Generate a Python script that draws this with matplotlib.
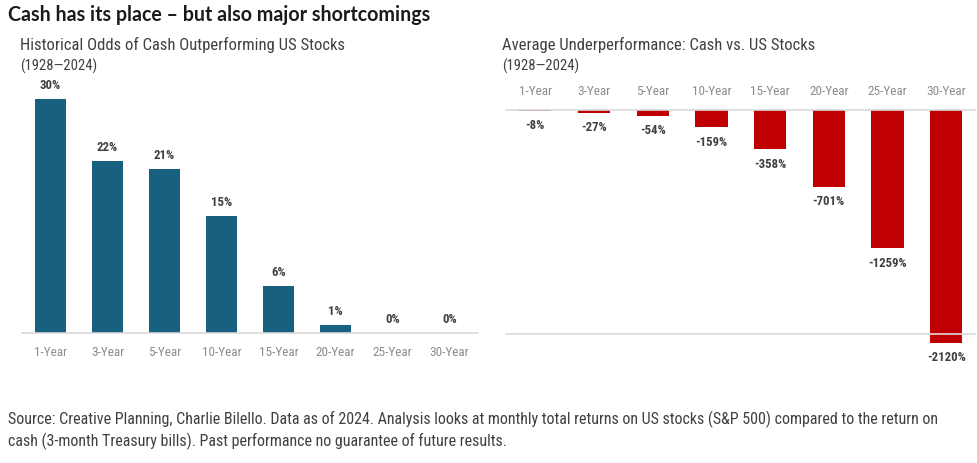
import matplotlib
matplotlib.use("Agg")
import matplotlib.pyplot as plt

periods = ["1-Year", "3-Year", "5-Year", "10-Year", "15-Year", "20-Year", "25-Year", "30-Year"]
odds = [30, 22, 21, 15, 6, 1, 0, 0]
underperf = [-8, -27, -54, -159, -358, -701, -1259, -2120]

NF = ["Roboto Condensed", "DejaVu Sans"]

W, H = 978, 463
fig = plt.figure(figsize=(W / 100, H / 100), dpi=100)

def fx(px):
    return px / W

def fy(py):
    return 1 - py / H

blue = "#17607F"
red = "#C00000"
grid = "#D9D9D9"
tickc = "#8C8C8C"
labc = "#404040"

# Left chart
axL = fig.add_axes([fx(22), fy(333), fx(478 - 22), (333 - 80) / H])
x = range(len(periods))
axL.bar(x, odds, width=0.56, color=blue, zorder=1)
axL.set_xlim(-0.5, 7.5)
axL.set_ylim(0, 253 / 7.8)
for s in ["top", "left", "right"]:
    axL.spines[s].set_visible(False)
axL.spines["bottom"].set_color(grid)
axL.spines["bottom"].set_linewidth(1.2)
axL.spines["bottom"].set_zorder(3)
axL.set_yticks([])
axL.set_xticks(list(x))
axL.set_xticklabels(periods, family=NF, fontsize=9.5, color=tickc)
axL.tick_params(axis="x", length=0, pad=9)
for i, v in enumerate(odds):
    axL.annotate(f"{v}%", (i, v), xytext=(0, 5), textcoords="offset points",
                 ha="center", va="bottom", family=NF, fontsize=9.2, fontweight="bold", color=labc)

# Right chart
ymin = -(334 - 110) / 0.1099
axR = fig.add_axes([fx(506), fy(334), fx(975.5 - 506), (334 - 110) / H])
axR.bar(x, underperf, width=0.55, color=red, zorder=1, clip_on=False)
axR.set_xlim(-0.5, 7.5)
axR.set_ylim(ymin, 0)
for s in ["left", "right"]:
    axR.spines[s].set_visible(False)
for s in ["top", "bottom"]:
    axR.spines[s].set_color(grid)
    axR.spines[s].set_linewidth(1.2)
    axR.spines[s].set_zorder(3)
axR.set_yticks([])
axR.xaxis.tick_top()
axR.set_xticks(list(x))
axR.set_xticklabels(periods, family=NF, fontsize=9.5, color=tickc)
axR.tick_params(axis="x", length=0, pad=9)
for i, v in enumerate(underperf):
    axR.annotate(f"{v}%", (i, v), xytext=(0, -6), textcoords="offset points",
                 ha="center", va="top", family=NF, fontsize=9.2, fontweight="bold", color=labc,
                 annotation_clip=False)

# Titles
fig.text(fx(8), fy(15), "Cash has its place \u2013 but also major shortcomings",
         family=["Lato", "DejaVu Sans"], fontsize=14.1, fontweight="bold", color="#1a1a1a",
         ha="left", va="center")
fig.text(fx(20), fy(45), "Historical Odds of Cash Outperforming US Stocks",
         family=NF, fontsize=12.0, color="#404040", ha="left", va="center")
fig.text(fx(20), fy(66), "(1928\u20142024)", family=NF, fontsize=10.5, color="#404040",
         ha="left", va="center")
fig.text(fx(502), fy(45), "Average Underperformance: Cash vs. US Stocks",
         family=NF, fontsize=12.0, color="#404040", ha="left", va="center")
fig.text(fx(502), fy(66), "(1928\u20142024)", family=NF, fontsize=10.5, color="#404040",
         ha="left", va="center")

fig.text(fx(8), fy(419),
         "Source: Creative Planning, Charlie Bilello. Data as of 2024. Analysis looks at monthly total returns on US stocks (S&P 500) compared to the return on",
         family=NF, fontsize=11.5, color="#404040", ha="left", va="center")
fig.text(fx(8), fy(441),
         "cash (3-month Treasury bills). Past performance no guarantee of future results.",
         family=NF, fontsize=11.5, color="#404040", ha="left", va="center")

fig.savefig("out.png", dpi=100, facecolor="white")
